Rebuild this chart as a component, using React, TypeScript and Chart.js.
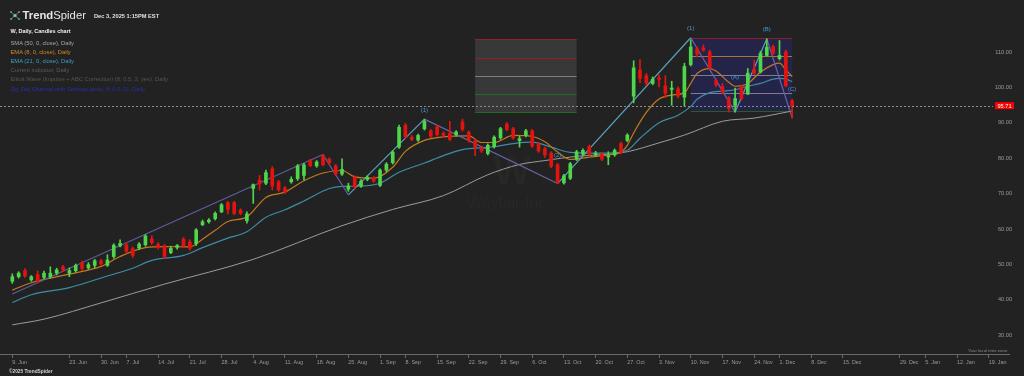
import React, { useEffect, useRef } from "react";
import { Chart, registerables } from "chart.js";

Chart.register(...registerables);

const FONT = "'Liberation Sans', Arial, sans-serif";

// x axis = trading-day index, 0 = 9 Jun 2025
const tickDays = [0, 9, 14, 18, 23, 28, 33, 38, 43, 48, 53, 58, 62, 67, 72, 77, 82, 87, 92, 97, 102, 107, 112, 117, 121, 126, 131, 140, 144, 149, 154];
const tickLabels = ["9. Jun", "23. Jun", "30. Jun", "7. Jul", "14. Jul", "21. Jul", "28. Jul", "4. Aug", "11. Aug", "18. Aug", "25. Aug", "1. Sep", "8. Sep", "15. Sep", "22. Sep", "29. Sep", "6. Oct", "13. Oct", "20. Oct", "27. Oct", "3. Nov", "10. Nov", "17. Nov", "24. Nov", "1. Dec", "8. Dec", "15. Dec", "29. Dec", "5. Jan", "12. Jan", "19. Jan"];
const yTicks = [30, 40, 50, 60, 70, 80, 90, 100, 110];

const opens = [46.1, 47.4, 49.1, 46.5, 48.0, 47.2, 47.4, 48.4, 50.2, 48.4, 49.1, 51.2, 49.9, 50.6, 51.9, 50.6, 53.1, 56.1, 56.4, 55.3, 55.5, 56.4, 58.1, 56.6, 56.1, 54.2, 55.7, 58.0, 57.2, 56.7, 62.1, 62.9, 63.8, 65.7, 68.3, 68.3, 66.2, 63.2, 72.3, 74.7, 73.8, 77.9, 74.2, 72.5, 74.2, 75.1, 76.0, 80.2, 78.7, 81.7, 80.6, 78.7, 76.4, 72.1, 75.5, 73.0, 74.9, 75.3, 73.2, 77.5, 79.6, 84.0, 90.2, 86.8, 86.0, 89.2, 88.6, 89.8, 87.9, 87.9, 87.5, 91.1, 88.2, 85.8, 83.8, 82.2, 84.1, 86.6, 90.5, 89.2, 85.8, 87.3, 88.6, 84.9, 83.6, 82.3, 79.0, 73.9, 75.2, 80.6, 82.0, 84.2, 81.8, 82.0, 81.2, 81.8, 85.0, 85.9, 98.4, 105.8, 104.2, 102.0, 103.6, 101.3, 100.3, 100.5, 98.1, 107.3, 111.8, 112.0, 110.9, 102.8, 101.1, 97.9, 95.8, 101.1, 99.0, 106.0, 105.2, 109.9, 112.4, 109.0, 110.9, 97.1];
const highs = [48.2, 48.8, 49.7, 47.7, 49.0, 49.0, 50.2, 49.8, 50.6, 49.9, 51.0, 51.8, 51.4, 52.3, 52.3, 53.6, 56.7, 57.8, 57.0, 55.8, 57.0, 59.3, 59.0, 57.0, 56.5, 56.0, 56.5, 58.5, 57.8, 61.0, 63.4, 63.8, 65.7, 68.1, 68.7, 68.7, 66.6, 65.7, 73.6, 76.0, 77.5, 78.5, 74.6, 72.9, 75.6, 79.1, 79.4, 80.6, 80.2, 81.9, 81.0, 79.1, 80.7, 73.8, 75.9, 74.8, 75.9, 75.7, 77.9, 79.6, 83.0, 90.2, 90.7, 87.3, 87.7, 91.9, 89.0, 90.2, 88.3, 91.3, 88.7, 91.9, 88.6, 86.3, 84.2, 84.9, 87.2, 89.6, 90.9, 89.6, 87.1, 89.0, 89.0, 85.3, 84.0, 82.7, 79.4, 76.3, 79.7, 83.1, 83.5, 84.6, 82.8, 82.4, 82.7, 83.5, 85.4, 87.8, 108.4, 108.7, 104.8, 103.8, 104.4, 104.2, 102.6, 101.0, 107.7, 114.3, 112.4, 112.9, 111.4, 103.3, 102.0, 98.3, 100.7, 101.5, 106.2, 108.6, 111.1, 114.6, 112.8, 114.1, 111.4, 97.5];
const lows = [45.5, 47.0, 47.2, 46.1, 45.7, 46.8, 47.0, 47.9, 48.9, 47.4, 48.7, 49.2, 49.5, 49.9, 50.6, 50.3, 52.6, 55.8, 54.1, 52.8, 55.0, 56.0, 56.5, 55.2, 52.5, 53.9, 55.2, 55.6, 54.9, 56.2, 61.8, 62.5, 63.4, 65.5, 65.1, 64.9, 64.9, 62.5, 68.1, 71.9, 73.4, 71.9, 71.5, 70.9, 73.8, 74.6, 74.7, 78.5, 78.3, 78.7, 79.2, 76.0, 76.0, 71.5, 72.3, 72.6, 74.5, 74.0, 72.8, 77.1, 79.2, 83.6, 86.5, 85.8, 85.6, 88.8, 86.7, 87.1, 86.9, 85.8, 87.1, 88.5, 85.4, 81.6, 82.5, 81.8, 83.7, 86.2, 88.6, 86.2, 84.0, 86.9, 83.9, 82.5, 81.1, 78.2, 73.7, 73.5, 74.8, 80.2, 81.6, 81.6, 81.4, 80.2, 79.0, 81.4, 82.1, 85.5, 96.5, 102.2, 101.5, 101.6, 101.0, 98.0, 95.8, 97.9, 95.6, 106.9, 109.5, 111.0, 106.0, 101.1, 99.0, 93.9, 93.9, 97.3, 98.8, 104.5, 104.9, 109.7, 110.1, 108.6, 101.1, 92.2];
const closes = [47.4, 48.4, 47.6, 47.4, 46.1, 48.4, 48.4, 49.3, 49.3, 49.1, 50.6, 49.7, 50.8, 51.9, 51.0, 52.1, 56.3, 56.8, 54.6, 53.4, 56.6, 58.9, 57.0, 55.7, 53.1, 55.4, 56.2, 56.1, 55.4, 60.6, 62.9, 63.4, 65.3, 67.7, 66.4, 65.3, 65.3, 65.1, 73.4, 73.6, 76.8, 73.0, 71.9, 71.3, 74.9, 78.7, 79.0, 78.7, 79.8, 79.0, 79.6, 76.4, 77.7, 73.0, 72.7, 74.4, 75.5, 74.4, 77.5, 79.2, 82.6, 89.6, 86.9, 86.2, 87.3, 91.3, 87.1, 87.5, 87.3, 86.2, 88.3, 89.0, 85.8, 84.1, 82.9, 84.5, 86.8, 89.2, 89.0, 86.6, 86.4, 88.6, 84.3, 82.9, 81.8, 78.6, 73.9, 75.9, 79.3, 82.7, 83.1, 82.0, 82.3, 80.6, 81.6, 83.1, 82.5, 87.4, 106.4, 103.4, 102.1, 103.2, 103.1, 99.2, 100.7, 98.4, 106.8, 112.3, 110.3, 111.4, 106.4, 101.6, 99.6, 94.9, 97.7, 97.7, 104.9, 104.9, 110.5, 112.2, 110.5, 109.9, 101.3, 95.71];

const smaDays = [0, 5, 14, 24, 38, 52, 60, 68, 75, 80, 84, 89, 94, 97, 102, 106, 112, 117, 123];
const smaValues = [33.8, 35.4, 40.0, 45.3, 52.3, 61.8, 66.4, 70.3, 76.2, 79.1, 80.2, 81.4, 82.0, 82.7, 85.2, 87.4, 91.3, 92.2, 94.2];

const ema8Days = [0, 3, 9, 14, 17, 21, 24, 28, 30, 32, 34, 37, 40, 43, 46, 49, 52, 54, 57, 60, 62, 65, 68, 72, 74, 76, 79, 82, 84, 86, 88, 91, 94, 96, 97, 98, 100, 102, 104, 106, 107, 108, 110, 111, 113, 114, 116, 118, 120, 121, 122, 123];
const ema8Values = [43.6, 45.7, 48.1, 50.3, 53.1, 55.6, 55.9, 55.8, 58.0, 60.5, 63.0, 64.3, 69.8, 71.3, 74.5, 76.7, 77.4, 75.6, 75.2, 78.3, 82.8, 85.9, 86.9, 87.2, 85.3, 85.3, 87.3, 87.0, 85.5, 82.6, 80.5, 81.2, 81.8, 82.6, 84.5, 88.0, 93.8, 97.6, 98.7, 99.4, 102.0, 104.8, 106.2, 105.5, 102.3, 101.2, 102.0, 105.2, 107.3, 107.7, 105.8, 103.9];

const ema21Days = [0, 3, 9, 15, 19, 22, 27, 30, 34, 37, 40, 43, 46, 50, 52, 55, 58, 61, 65, 68, 71, 73, 76, 79, 82, 85, 88, 91, 94, 97, 99, 102, 105, 107, 108, 110, 112, 114, 116, 118, 120, 121, 122, 123];
const ema21Values = [40.1, 42.3, 44.3, 47.6, 49.8, 52.0, 53.4, 55.6, 58.3, 60.1, 64.2, 66.3, 68.8, 72.3, 72.9, 73.0, 73.8, 76.9, 79.5, 81.6, 83.3, 83.7, 84.1, 85.0, 85.4, 84.0, 82.5, 82.3, 82.3, 83.1, 86.5, 90.9, 93.0, 95.5, 97.5, 99.4, 99.8, 100.2, 101.2, 102.0, 103.2, 103.4, 103.2, 102.5];

const channelDays = [0, 49, 53];
const channelValues = [42.5, 81.9, 70.5];
const waveDays = [53, 65, 86, 107, 114, 119, 123];
const waveValues = [70.5, 91.9, 73.7, 114.9, 93.9, 114.6, 92.2];
const waveLabelDays = [65, 86, 107, 114, 119, 123];
const waveLabelValues = [94.5, 81.7, 117.6, 103.6, 117.3, 100.3];
const waveLabelTexts = ["(1)", "(2)", "(1)", "(A)", "(B)", "(C)"];

const box1Days = [73, 89];
const box1Levels = [114.5, 109.2, 104.0, 98.9, 93.8];
const box2Days = [107, 123];
const box2Levels = [114.9, 109.6, 104.5, 99.4, 94.3];

const lastPrice = 95.71;

const UP = "#4fd64a";
const DOWN = "#e3140f";

const pts = (days: number[], vals: number[]) => days.map((d, i) => ({ x: d, y: vals[i] }));

const overlay = {
  id: "overlay",
  beforeDatasetsDraw(chart: any) {
    const { ctx, chartArea: a, scales } = chart;
    const x = scales.x, y = scales.y;
    ctx.save();
    ctx.fillStyle = "#272727";
    ctx.textAlign = "center";
    ctx.textBaseline = "middle";
    ctx.font = `bold 40px ${FONT}`;
    ctx.fillText("W", a.left + a.width * 0.517, a.top + 173);
    ctx.font = `16px ${FONT}`;
    ctx.fillText("Wayfair Inc.", a.left + a.width * 0.514, a.top + 204);
    const drawBox = (days: number[], levels: number[], fill: string, colors: string[]) => {
      const x0 = x.getPixelForValue(days[0]);
      const x1 = x.getPixelForValue(days[1]);
      const yt = y.getPixelForValue(levels[0]);
      const yb = y.getPixelForValue(levels[levels.length - 1]);
      ctx.fillStyle = fill;
      ctx.fillRect(x0, yt, x1 - x0, yb - yt);
      levels.forEach((lv, i) => {
        const py = Math.round(y.getPixelForValue(lv)) + 0.5;
        ctx.strokeStyle = colors[i];
        ctx.lineWidth = 1;
        ctx.beginPath();
        ctx.moveTo(x0, py);
        ctx.lineTo(x1, py);
        ctx.stroke();
      });
    };
    drawBox(box1Days, box1Levels, "rgba(255,255,255,0.1)", ["#9a1f22", "#9a1f22", "#7d7d7d", "#236b23", "#236b23"]);
    drawBox(box2Days, box2Levels, "rgba(40,40,120,0.45)", ["#8e1c2c", "#b07332", "#7d7d96", "#7d7d96", "#2b5a2b"]);
    ctx.restore();
  },
  afterDatasetsDraw(chart: any) {
    const { ctx, chartArea: a, scales } = chart;
    const x = scales.x, y = scales.y;
    ctx.save();
    ctx.fillStyle = "#4a98cf";
    ctx.font = `6px ${FONT}`;
    ctx.textAlign = "center";
    ctx.textBaseline = "middle";
    waveLabelDays.forEach((d, i) => {
      ctx.fillText(waveLabelTexts[i], x.getPixelForValue(d), y.getPixelForValue(waveLabelValues[i]));
    });
    const py = Math.round(y.getPixelForValue(lastPrice)) + 0.5;
    ctx.strokeStyle = "#8c8c8c";
    ctx.setLineDash([2, 2]);
    ctx.lineWidth = 1;
    ctx.beginPath();
    ctx.moveTo(a.left, py);
    ctx.lineTo(a.right + 3, py);
    ctx.stroke();
    ctx.setLineDash([]);
    ctx.restore();
  },
  afterDraw(chart: any) {
    const { ctx, chartArea: a, scales } = chart;
    const y = scales.y;
    ctx.save();
    ctx.strokeStyle = "#6a6a6a";
    ctx.lineWidth = 1;
    ctx.beginPath();
    ctx.moveTo(0, a.bottom + 0.5);
    ctx.lineTo(1010, a.bottom + 0.5);
    ctx.stroke();
    const py = y.getPixelForValue(lastPrice);
    ctx.fillStyle = "#ff0000";
    ctx.fillRect(a.right + 5, py - 3.5, 19, 7);
    ctx.fillStyle = "#ffffff";
    ctx.font = `5.6px ${FONT}`;
    ctx.textAlign = "center";
    ctx.textBaseline = "middle";
    ctx.fillText(lastPrice.toFixed(2), a.right + 14.5, py + 0.3);
    ctx.restore();
  },
};

const T = ({ x, y, size, color, bold, children }: any) => (
  <div
    style={{
      position: "absolute",
      left: x,
      top: y - size * 0.6,
      fontSize: size,
      lineHeight: `${size * 1.2}px`,
      color,
      fontWeight: bold ? 700 : 400,
      whiteSpace: "nowrap",
      fontFamily: FONT,
    }}
  >
    {children}
  </div>
);

export default function App() {
  const ref = useRef<HTMLCanvasElement>(null);
  useEffect(() => {
    const canvas = ref.current!;
    const candleColor = (i: number) => (closes[i] >= opens[i] ? UP : DOWN);
    const chart = new Chart(canvas, {
      type: "bar",
      data: {
        datasets: [
          {
            type: "line",
            label: "SMA 50",
            data: pts(smaDays, smaValues),
            borderColor: "#9c9c9c",
            borderWidth: 1,
            pointRadius: 0,
            cubicInterpolationMode: "monotone",
            order: 5,
          } as any,
          {
            type: "line",
            label: "EMA 21",
            data: pts(ema21Days, ema21Values),
            borderColor: "#3d8da6",
            borderWidth: 1.2,
            pointRadius: 0,
            cubicInterpolationMode: "monotone",
            order: 4,
          },
          {
            type: "line",
            label: "EMA 8",
            data: pts(ema8Days, ema8Values),
            borderColor: "#c27a20",
            borderWidth: 1.2,
            pointRadius: 0,
            cubicInterpolationMode: "monotone",
            order: 3,
          },
          {
            type: "line",
            label: "Zig Zag",
            data: pts(channelDays, channelValues),
            borderColor: "#5f5a9c",
            borderWidth: 1.2,
            pointRadius: 0,
            order: 2,
          },
          {
            type: "line",
            label: "Elliott",
            data: pts(waveDays, waveValues),
            borderColor: "#5f5a9c",
            borderWidth: 1.2,
            pointRadius: 0,
            segment: {
              borderColor: (c: any) => (c.p1.parsed.y > c.p0.parsed.y ? "#5aa2be" : "#6a62a8"),
            },
            order: 2,
          },
          {
            type: "bar",
            label: "wicks",
            data: opens.map((o, i) => ({ x: i, y: [lows[i], highs[i]] })) as any,
            backgroundColor: (c: any) => candleColor(c.dataIndex),
            barThickness: 1,
            grouped: false,
            order: 1,
          },
          {
            type: "bar",
            label: "bodies",
            data: opens.map((o, i) => ({ x: i, y: [o, closes[i]] })) as any,
            backgroundColor: (c: any) => candleColor(c.dataIndex),
            barThickness: 3,
            minBarLength: 1,
            grouped: false,
            order: 0,
          },
        ],
      },
      options: {
        responsive: false,
        animation: false,
        devicePixelRatio: 1,
        events: [],
        layout: { padding: { left: 0, top: 0, bottom: 0, right: 12 } },
        plugins: { legend: { display: false }, tooltip: { enabled: false }, title: { display: false } },
        scales: {
          x: {
            type: "linear",
            min: -1.94,
            max: 154.2,
            offset: false,
            afterBuildTicks: (s: any) => {
              s.ticks = tickDays.map((v) => ({ value: v }));
            },
            afterFit: (s: any) => {
              s.height = 22;
              s.paddingLeft = 0;
              s.paddingRight = 0;
              s.paddingTop = 0;
              s.paddingBottom = 0;
            },
            grid: { display: true, drawOnChartArea: false, drawTicks: true, tickLength: 4, color: "#6a6a6a", offset: false },
            border: { display: false },
            ticks: {
              autoSkip: false,
              maxRotation: 0,
              minRotation: 0,
              align: "start",
              padding: 1,
              color: "#9a9a9a",
              font: { family: FONT, size: 5.4 },
              callback: (_v: any, i: number) => tickLabels[i],
            },
          },
          y: {
            type: "linear",
            position: "right",
            min: 25.56,
            max: 125.56,
            afterBuildTicks: (s: any) => {
              s.ticks = yTicks.map((v) => ({ value: v }));
            },
            afterFit: (s: any) => {
              s.width = 22;
              s.paddingLeft = 0;
              s.paddingRight = 0;
              s.paddingTop = 0;
              s.paddingBottom = 0;
            },
            grid: { display: false, drawTicks: false },
            border: { display: false },
            ticks: {
              color: "#9a9a9a",
              font: { family: FONT, size: 5.6 },
              padding: 0,
              crossAlign: "far",
              labelOffset: -3,
              callback: (v: any) => Number(v).toFixed(2),
            },
          },
        },
      } as any,
      plugins: [overlay],
    } as any);
    return () => chart.destroy();
  }, []);

  return (
    <div style={{ position: "fixed", left: 0, top: 0, width: 1024, height: 376, background: "#222222", overflow: "hidden" }}>
      <canvas ref={ref} width={1024} height={376} style={{ position: "absolute", left: 0, top: 0, width: 1024, height: 376 }} />
      <svg style={{ position: "absolute", left: 9, top: 10 }} width={12} height={11} viewBox="0 0 12 11">
        <g stroke="#5a9e9a" strokeWidth={0.8}>
          <line x1={2} y1={2} x2={6} y2={5.5} />
          <line x1={10} y1={2} x2={6} y2={5.5} />
          <line x1={2} y1={9} x2={6} y2={5.5} />
          <line x1={10} y1={9} x2={6} y2={5.5} />
        </g>
        <circle cx={6} cy={5.5} r={1.6} fill="#7fc4bd" />
        <circle cx={2} cy={2} r={1} fill="#5a9e9a" />
        <circle cx={10} cy={2} r={1} fill="#8a8a8a" />
        <circle cx={2} cy={9} r={1} fill="#8a8a8a" />
        <circle cx={10} cy={9} r={1} fill="#5a9e9a" />
      </svg>
      <T x={22.5} y={15.5} size={11.3} color="#e6e6e6">
        <b>Trend</b>Spider
      </T>
      <T x={94} y={16} size={5.7} color="#e0e0e0" bold>
        Dec 3, 2025 1:15PM EST
      </T>
      <T x={10.5} y={31.3} size={5.5} color="#f0f0f0" bold>
        W, Daily, Candles chart
      </T>
      <T x={10.5} y={43} size={5.8} color="#a8a8a8">
        SMA (50, 0, close), Daily
      </T>
      <T x={10.5} y={52.2} size={5.8} color="#d4892a">
        EMA (8, 0, close), Daily
      </T>
      <T x={10.5} y={61.4} size={5.8} color="#3d9fc6">
        EMA (21, 0, close), Daily
      </T>
      <T x={10.5} y={70.6} size={5.8} color="#5a5a5a">
        Current indicator, Daily
      </T>
      <T x={10.5} y={79.8} size={5.8} color="#555555">
        Elliott Wave (Impulse + ABC Correction) (8, 0.5, 3, yes), Daily
      </T>
      <T x={10.5} y={89} size={5.8} color="#2a2ab8">
        Zig Zag Channel with Settings (auto, 8, 0.5, 2), Daily
      </T>
      <T x={968} y={350.5} size={4.4} color="#8a8a8a">
        Your local time zone
      </T>
      <T x={9} y={371.5} size={4.8} color="#d0d0d0" bold>
        ©2025 TrendSpider
      </T>
    </div>
  );
}
